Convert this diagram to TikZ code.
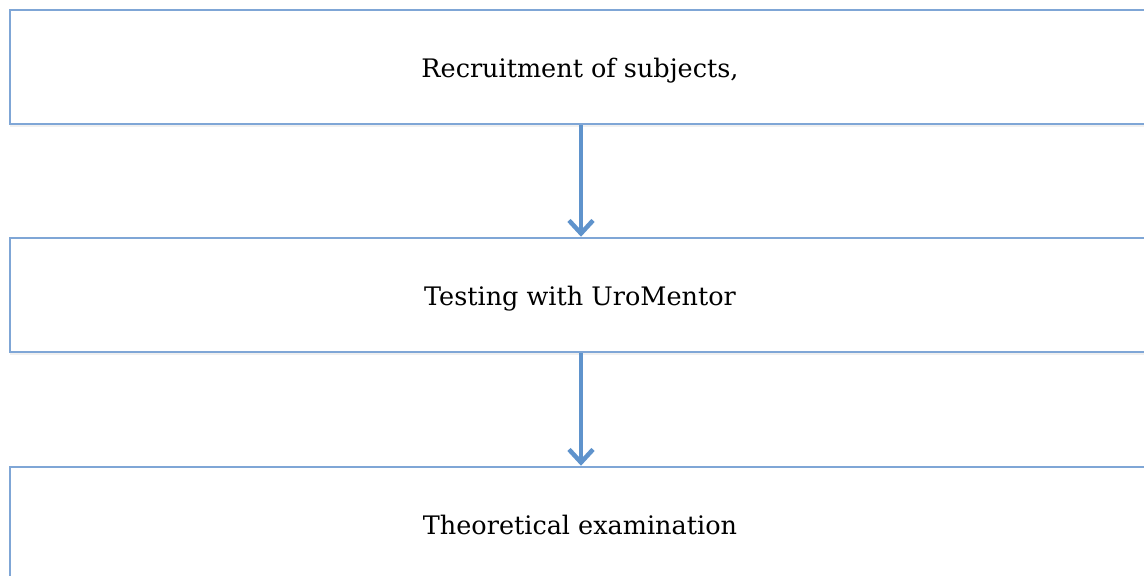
\documentclass[tikz,border=0pt]{standalone}
\usepackage{fontspec}
\setmainfont{DejaVu Serif}
\usepackage{tikz}
\usetikzlibrary{arrows.meta,shadows}
\definecolor{B0}{HTML}{7FA6D6}
\definecolor{B1}{HTML}{5F93CC}

\tikzset{
  stagebox/.style={draw=B0, line width=2.5pt, fill=white, minimum width=1140pt, minimum height=114pt,
    text centered, text height=24pt, text depth=4pt, font=\fontsize{25.5}{30}\selectfont,
    drop shadow={shadow xshift=0pt, shadow yshift=-3pt, opacity=0.12}},
  flowarrow/.style={draw=B1, line width=4.5pt, -{Straight Barb[length=13pt, width=24pt, line width=4.5pt]}}
}

\begin{document}
\begin{tikzpicture}[x=1pt, y=-1pt]%
\useasboundingbox (0,0) rectangle (1144,576);%
\clip (0,0) rectangle (1144,576);%
\node[stagebox] (recruit) at (580, 67) {Recruitment of subjects,};%
\node[stagebox] (testing) at (580, 295) {Testing with UroMentor};%
\node[stagebox] (exam) at (580, 524) {Theoretical examination};%
\draw[flowarrow] (recruit.south -| 581,0) -- (testing.north -| 581,0);%
\draw[flowarrow] (testing.south -| 581,0) -- (exam.north -| 581,0);%
\end{tikzpicture}
\end{document}
